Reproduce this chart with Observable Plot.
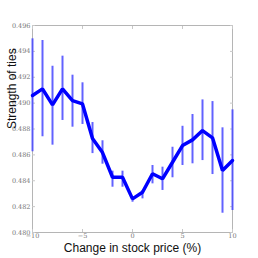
<!DOCTYPE html>
<html>
<head>
<meta charset="utf-8">
<script src="https://cdn.jsdelivr.net/npm/d3@7"></script>
<script src="https://cdn.jsdelivr.net/npm/@observablehq/plot@0.6"></script>
<style>
  html, body { margin: 0; padding: 0; background: #fff; }
</style>
</head>
<body>
<div id="chart"></div>
<script>
const change = [-10, -9, -8, -7, -6, -5, -4, -3, -2, -1, 0, 1, 2, 3, 4, 5, 6, 7, 8, 9, 10];
const strength = [0.49059, 0.4911, 0.48987, 0.4911, 0.4902, 0.48994, 0.48726, 0.48618, 0.48427, 0.48427, 0.4826, 0.48311, 0.48454, 0.48415, 0.48543, 0.48672, 0.48716, 0.48788, 0.48732, 0.48479, 0.48556];
const upper = [0.49497, 0.49484, 0.49285, 0.49363, 0.49216, 0.49157, 0.4885, 0.48709, 0.48474, 0.48474, 0.48273, 0.48325, 0.48518, 0.48505, 0.48659, 0.48821, 0.48912, 0.49025, 0.49012, 0.48809, 0.48948];
const lower = [0.48624, 0.4874, 0.48675, 0.48866, 0.48814, 0.48835, 0.4861, 0.48528, 0.4835, 0.4835, 0.48234, 0.4826, 0.48376, 0.48325, 0.48423, 0.48518, 0.48531, 0.48556, 0.48448, 0.48149, 0.4817];
const xTicks = [-10, -5, 0, 5, 10];
const yTicks = [0.480, 0.482, 0.484, 0.486, 0.488, 0.490, 0.492, 0.494, 0.496];

const data = change.map((c, i) => ({c, s: strength[i], lo: lower[i], hi: upper[i]}));
const tickFont = {fontFamily: "DejaVu Serif", fontSize: 6.5, fill: "#777"};

const chart = Plot.plot({
  width: 258,
  height: 258,
  marginLeft: 32,
  marginRight: 26,
  marginTop: 25,
  marginBottom: 26,
  style: {background: "#fff", overflow: "visible"},
  x: {domain: [-10, 10]},
  y: {domain: [0.480, 0.496]},
  marks: [
    Plot.frame({stroke: "#b5b5b5", strokeWidth: 1}),
    Plot.axisX({ticks: xTicks, tickSize: -3, tickPadding: 4, stroke: "#c8c8c8", label: null,
      tickFormat: d => d < 0 ? "\u2212" + Math.abs(d) : String(d), ...tickFont}),
    Plot.axisX({anchor: "top", ticks: xTicks, tickSize: -3, stroke: "#c8c8c8", label: null, tickFormat: () => ""}),
    Plot.axisY({ticks: yTicks, tickSize: -3, tickPadding: 5, stroke: "#c8c8c8", label: null,
      tickFormat: d3.format(".3f"), ...tickFont}),
    Plot.axisY({anchor: "right", ticks: yTicks, tickSize: -3, stroke: "#c8c8c8", label: null, tickFormat: () => ""}),
    Plot.ruleX(data, {x: "c", y1: "lo", y2: "hi", stroke: "#4747ff", strokeWidth: 2, strokeOpacity: 0.85}),
    Plot.line(data, {x: "c", y: "s", stroke: "#0000ff", strokeWidth: 3.5, strokeLinejoin: "miter"}),
    Plot.text(["Change in stock price (%)"], {frameAnchor: "bottom", dy: 19.5, text: d => d,
      fontFamily: "Liberation Sans", fontSize: 12, fill: "#111"}),
    Plot.text(["Strength of ties"], {frameAnchor: "left", dx: -20, rotate: -90, text: d => d,
      fontFamily: "Liberation Sans", fontSize: 12, fill: "#111"})
  ]
});
document.getElementById("chart").appendChild(chart);
</script>
</body>
</html>
